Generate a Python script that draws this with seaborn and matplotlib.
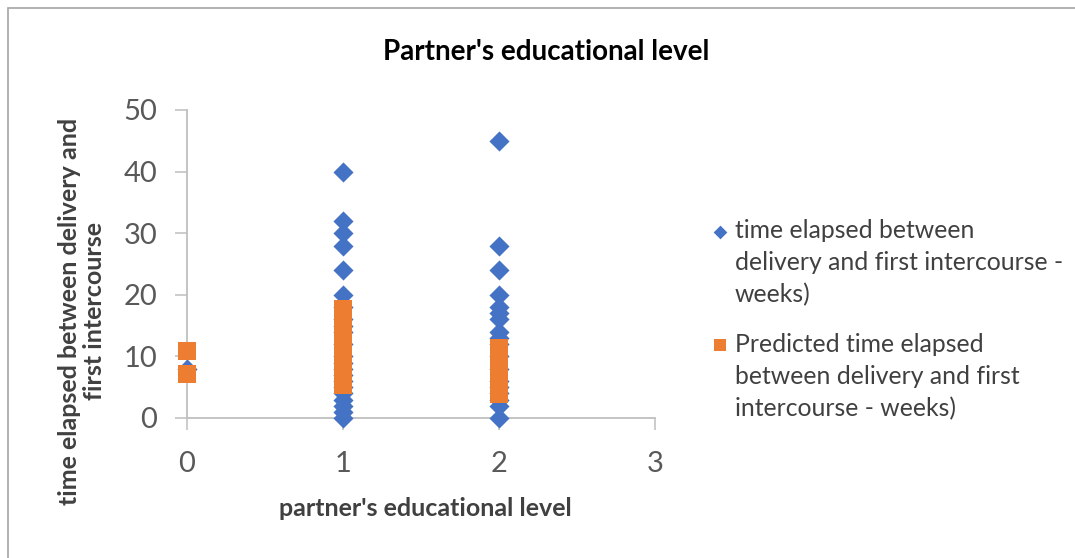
import matplotlib
matplotlib.use("Agg")
import matplotlib.pyplot as plt
import seaborn as sns
import pandas as pd
import numpy as np
from matplotlib.patches import Rectangle

# ---- data ----
obs_weeks_0 = [8]
obs_weeks_1 = [0, 1, 2, 3, 4, 5, 6, 7, 8, 9, 10, 12, 14, 15, 16, 18, 20, 24, 28, 30, 32, 40]
obs_weeks_2 = [0, 2, 3, 4, 5, 6, 8, 10, 12, 13, 14, 16, 17, 18, 20, 24, 28, 45]

pred_weeks_0 = [10.9, 7.1]
pred_weeks_1 = [5.3, 6.1, 6.8, 7.4, 8.0, 8.6, 9.1, 9.7, 10.2, 10.8, 11.3, 11.9,
                12.4, 13.0, 13.6, 14.1, 14.7, 15.3, 15.9, 16.5, 17.1, 17.7]
pred_weeks_2 = [3.9, 4.6, 5.3, 5.9, 6.6, 7.2, 7.9, 8.5, 9.2, 9.8, 10.5, 11.0, 11.4]

x_ticks = [0, 1, 2, 3]
y_ticks = [0, 10, 20, 30, 40, 50]

title = "Partner's educational level"
x_label = "partner's educational level"
y_label = "time elapsed between delivery and\nfirst intercourse"
obs_label = "time elapsed between\ndelivery and first intercourse -\nweeks)"
pred_label = "Predicted time elapsed\nbetween delivery and first\nintercourse - weeks)"

obs = pd.DataFrame({
    "level": [0] * len(obs_weeks_0) + [1] * len(obs_weeks_1) + [2] * len(obs_weeks_2),
    "weeks": obs_weeks_0 + obs_weeks_1 + obs_weeks_2,
})
pred = pd.DataFrame({
    "level": [0] * len(pred_weeks_0) + [1] * len(pred_weeks_1) + [2] * len(pred_weeks_2),
    "weeks": pred_weeks_0 + pred_weeks_1 + pred_weeks_2,
})

# ---- style ----
sns.set_style("white")
plt.rcParams["font.family"] = ["Lato", "DejaVu Sans"]

BLUE = "#4472C4"
ORANGE = "#ED7D31"
AXIS_GRAY = "#BFBFBF"
TICK_TXT = "#595959"
TXT = "#404040"

W, H = 1075, 558
DPI = 100
fig = plt.figure(figsize=(W / DPI, H / DPI), dpi=DPI)
fig.patch.set_facecolor("white")

ax_l, ax_r, ax_b, ax_t = 187, 655, 418, 110
ax = fig.add_axes([ax_l / W, 1 - ax_b / H, (ax_r - ax_l) / W, (ax_b - ax_t) / H])

sns.scatterplot(data=obs, x="level", y="weeks", marker="D", s=105, color=BLUE,
                linewidth=0, ax=ax, label=obs_label, zorder=3, clip_on=False)
sns.scatterplot(data=pred, x="level", y="weeks", marker="s", s=150, color=ORANGE,
                linewidth=0, ax=ax, label=pred_label, zorder=4, clip_on=False)

ax.set_xlim(0, 3)
ax.set_ylim(0, 50)
ax.set_xticks(x_ticks)
ax.set_yticks(y_ticks)
ax.set_xticklabels([str(v) for v in x_ticks])
ax.set_yticklabels([str(v) for v in y_ticks])

for side in ["top", "right"]:
    ax.spines[side].set_visible(False)
for side in ["left", "bottom"]:
    ax.spines[side].set_color(AXIS_GRAY)
    ax.spines[side].set_linewidth(1.3)

ax.tick_params(axis="both", which="major", direction="out", length=8.5, width=1.1,
               color=AXIS_GRAY, labelcolor=TICK_TXT, labelsize=21)
ax.tick_params(axis="y", pad=13, left=True)
ax.tick_params(axis="x", pad=15, bottom=True)

ax.set_xlabel(x_label, fontsize=18, fontweight="bold", color=TXT)
ax.xaxis.set_label_coords((425 - ax_l) / (ax_r - ax_l), (ax_b - 508) / (ax_b - ax_t))
ax.xaxis.label.set_va("center")
ax.set_ylabel(y_label, fontsize=18, fontweight="bold", color=TXT, linespacing=1.12)
ax.yaxis.set_label_coords((82 - ax_l) / (ax_r - ax_l), (ax_b - 311) / (ax_b - ax_t))
ax.yaxis.label.set_va("center")
ax.yaxis.label.set_multialignment("center")

fig.text(546 / W, 1 - 52 / H, title, ha="center", va="center", fontsize=20,
         fontweight="bold", color="#000000")

LEG_FS = 17.8
fs_px = LEG_FS * DPI / 72
hl = 0.6
anchor_x = 720 - hl * fs_px / 2
leg = ax.legend(loc="upper left", bbox_to_anchor=(anchor_x / W, 1 - 219 / H),
                bbox_transform=fig.transFigure, frameon=False, fontsize=LEG_FS,
                labelcolor=TXT, markerscale=0.68, handlelength=hl,
                handletextpad=(735 - anchor_x - hl * fs_px) / fs_px,
                labelspacing=1.07, borderaxespad=0, borderpad=0)
for t in leg.get_texts():
    t.set_linespacing(1.47)

# align each legend marker with the x-height centre of its label's first line
fig.canvas.draw()
renderer = fig.canvas.get_renderer()
for t, hnd in zip(leg.get_texts(), leg.legend_handles):
    bb = t.get_window_extent(renderer)
    fp = t.get_fontproperties()
    w_lp, h_lp, d_lp = renderer.get_text_width_height_descent("lp", fp, ismath=False)
    w_x, h_x, d_x = renderer.get_text_width_height_descent("x", fp, ismath=False)
    target_y = bb.y1 - (h_lp - d_lp) + 0.5 * (h_x - d_x)
    offs = np.asarray(hnd.get_offsets(), dtype=float)
    disp = hnd.get_offset_transform().transform(offs)
    dy_pts = (target_y - disp[0, 1]) * 72 / DPI
    offs[:, 1] += dy_pts
    hnd.set_offsets(offs)

# outer chart border
fig.patches.append(Rectangle((8 / W, -0.05), 1.1, 1 - 8 / H + 0.05, transform=fig.transFigure,
                             fill=False, edgecolor="#A6A6A6", linewidth=1.2))

fig.savefig("out.png", dpi=DPI, facecolor="white")
